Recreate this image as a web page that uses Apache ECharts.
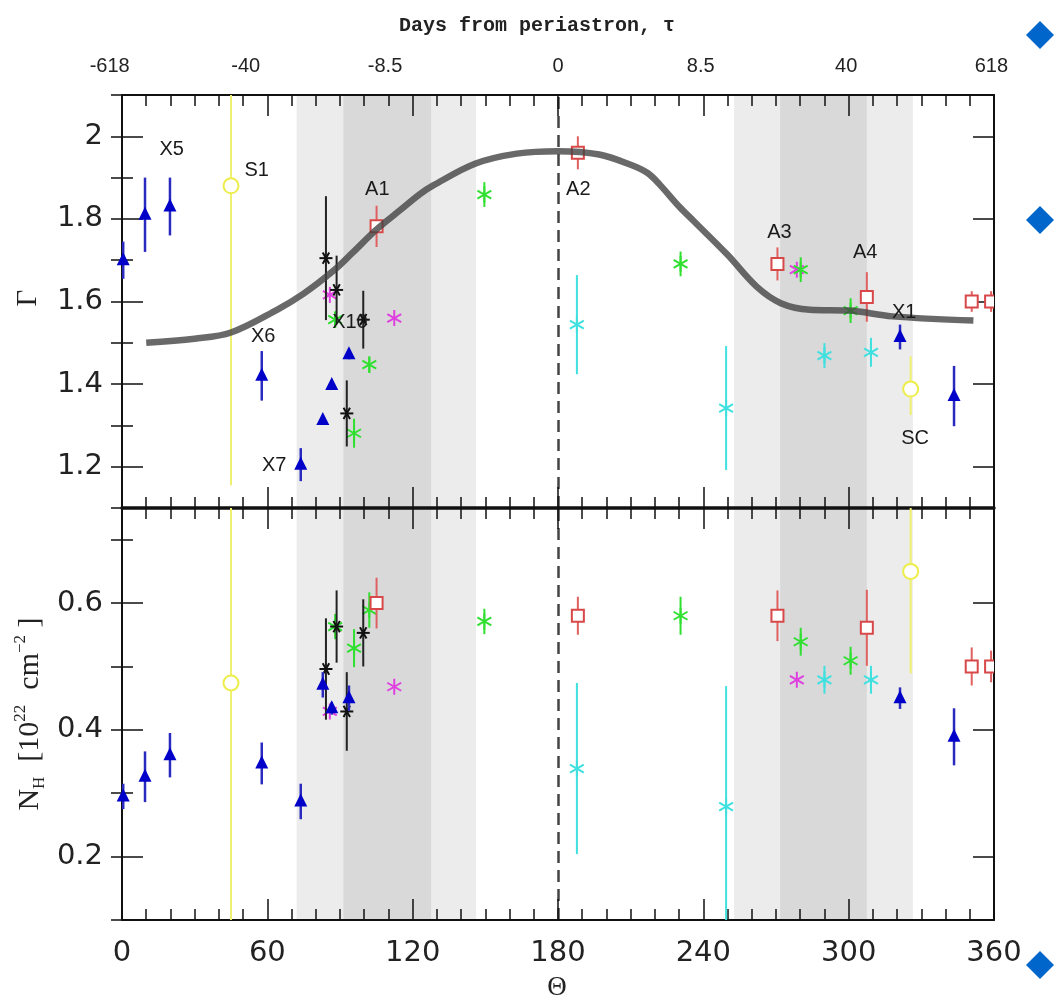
<!DOCTYPE html>
<html><head><meta charset="utf-8">
<script src="https://cdn.jsdelivr.net/npm/echarts@6/dist/echarts.min.js"></script>
<style>html,body{margin:0;padding:0;background:#fff}#c{width:1058px;height:1003px}</style>
</head><body><div id="c"></div><script>
// ---------- axis tick labels ----------
const thetaTicks = [0, 60, 120, 180, 240, 300, 360];
const gammaTicks = [1.2, 1.4, 1.6, 1.8, 2.0];
const nhTicks = [0.2, 0.4, 0.6];
const tauLabels = ['-618', '-40', '-8.5', '0', '8.5', '40', '618'];
const tauTheta = [-5.1, 51.1, 108.6, 180, 238.9, 299.0, 358.9];

// ---------- shaded phase intervals (Theta) ----------
const lightBands = [[72.1, 146.2], [252.7, 326.5]];
const darkBands = [[91.4, 127.6], [271.7, 307.5]];
const periastronTheta = 180;

// ---------- blue triangles ----------
const blueTheta = [0.5, 9.5, 19.8, 57.7, 73.8, 82.9, 86.6, 93.7, 321.2, 343.5];
const blueGamma = [1.70, 1.81, 1.83, 1.42, 1.205, 1.313, 1.398, 1.472, 1.514, 1.371];
const blueGammaErr = [0.045, 0.09, 0.07, 0.06, 0.04, 0.012, 0.012, 0.012, 0.03, 0.073];
const blueNH = [0.295, 0.326, 0.36, 0.347, 0.287, 0.471, 0.434, 0.45, 0.45, 0.389];
const blueNHErr = [0.02, 0.04, 0.035, 0.033, 0.028, 0.02, 0.01, 0.02, 0.017, 0.045];

// ---------- black asterisks ----------
const blackTheta = [84.2, 88.6, 92.8, 99.6];
const blackGamma = [1.705, 1.628, 1.329, 1.556];
const blackGammaErr = [0.15, 0.083, 0.08, 0.07];
const blackNH = [0.496, 0.563, 0.429, 0.553];
const blackNHErr = [0.08, 0.057, 0.062, 0.053];

// ---------- green asterisks ----------
const greenTheta = [88.0, 95.8, 102.1, 149.6, 230.6, 280.2, 300.8];
const greenGamma = [1.556, 1.281, 1.447, 1.859, 1.691, 1.677, 1.578];
const greenGammaErr = [0.02, 0.035, 0.02, 0.03, 0.03, 0.03, 0.03];
const greenNH = [0.563, 0.529, 0.589, 0.571, 0.58, 0.539, 0.509];
const greenNHErr = [0.02, 0.03, 0.028, 0.02, 0.03, 0.022, 0.022];

// ---------- magenta asterisks ----------
const magTheta = [85.8, 112.4, 278.6];
const magGamma = [1.616, 1.56, 1.677];
const magGammaErr = [0, 0, 0];
const magNH = [0.429, 0.468, 0.479];
const magNHErr = [0, 0, 0];

// ---------- cyan asterisks ----------
const cyanTheta = [187.8, 249.4, 290.0, 309.2];
const cyanGamma = [1.544, 1.342, 1.469, 1.477];
const cyanGammaErr = [0.12, 0.15, 0.03, 0.035];
const cyanNH = [0.339, 0.279, 0.479, 0.479];
const cyanNHErr = [0.135, 0.19, 0.022, 0.022];

// ---------- red open squares ----------
const redTheta = [105.1, 188.2, 270.6, 307.5, 350.8, 358.8];
const redGamma = [1.782, 1.96, 1.691, 1.611, 1.60, 1.60];
const redGammaErr = [0.05, 0.04, 0.04, 0.06, 0.025, 0.025];
const redNH = [0.60, 0.58, 0.58, 0.561, 0.50, 0.50];
const redNHErr = [0.04, 0.03, 0.04, 0.06, 0.03, 0.025];

// ---------- yellow open circles (asymmetric errors) ----------
const yelTheta = [45.0, 325.6];
const yelGamma = [1.88, 1.388];
const yelGammaLo = [0.725, 0.063];
const yelGammaHi = [0.40, 0.079];
const yelNH = [0.474, 0.65];
const yelNHLo = [0.45, 0.161];
const yelNHHi = [0.40, 0.20];

// ---------- model curve ----------
const curveTheta = [10, 30, 45, 64, 75, 87, 95, 105, 115, 123, 128.5, 146, 163, 180, 197, 210, 217, 222, 230, 236, 250, 262, 272, 284, 300, 318, 351.5];
const curveGamma = [1.50, 1.51, 1.525, 1.58, 1.619, 1.673, 1.717, 1.774, 1.822, 1.860, 1.881, 1.934, 1.958, 1.964, 1.956, 1.931, 1.911, 1.883, 1.83, 1.795, 1.713, 1.636, 1.596, 1.58, 1.578, 1.564, 1.554];

// ---------- annotations ----------
const labelText = ['X5', 'S1', 'A1', 'A2', 'A3', 'A4', 'X1', 'SC', 'X6', 'X7', 'X10'];
const labelTheta = [20.5, 55.6, 105.4, 188.4, 271.4, 306.8, 322.9, 327.4, 58.3, 62.8, 94.1];
const labelGamma = [1.969, 1.917, 1.871, 1.871, 1.767, 1.719, 1.573, 1.269, 1.515, 1.202, 1.548];

// ================= build =================
function rowsSym(t, v, e) { return t.map((x, i) => [x, v[i], v[i] - e[i], v[i] + e[i]]); }
function rowsAsym(t, v, lo, hi) { return t.map((x, i) => [x, v[i], v[i] - lo[i], v[i] + hi[i]]); }

function makeRender(kind, color, barColor, barW, size) {
  return function (params, api) {
    const cs = params.coordSys;
    const x = api.value(0), y = api.value(1), lo = api.value(2), hi = api.value(3);
    const p = api.coord([x, y]);
    const a = api.coord([x, lo]), b = api.coord([x, hi]);
    const top = cs.y, bot = cs.y + cs.height;
    const y1 = Math.max(top, Math.min(bot, b[1]));
    const y2 = Math.max(top, Math.min(bot, a[1]));
    const ch = [];
    if (y2 - y1 > 0.5) ch.push({ type: 'line', shape: { x1: p[0], y1: y1, x2: p[0], y2: y2 }, style: { stroke: barColor, lineWidth: barW } });
    const cx = p[0], cy = p[1];
    if (kind === 'tri') {
      ch.push({ type: 'polygon', shape: { points: [[cx, cy - 8], [cx - 6.5, cy + 5], [cx + 6.5, cy + 5]] }, style: { fill: color } });
    } else if (kind === 'sq') {
      ch.push({ type: 'rect', shape: { x: cx - 6, y: cy - 6, width: 12, height: 12 }, style: { fill: '#fff', stroke: color, lineWidth: 2 } });
    } else if (kind === 'circ') {
      ch.push({ type: 'circle', shape: { cx: cx, cy: cy, r: 7.5 }, style: { fill: '#fff', stroke: color, lineWidth: 2 } });
    } else {
      const angs = kind === 'astH' ? [0, 60, 120] : [90, 30, 150];
      angs.forEach(d => {
        const r = d * Math.PI / 180, dx = size * Math.cos(r), dy = size * Math.sin(r);
        ch.push({ type: 'line', shape: { x1: cx - dx, y1: cy - dy, x2: cx + dx, y2: cy + dy }, style: { stroke: color, lineWidth: 2 } });
      });
    }
    return { type: 'group', children: ch };
  };
}

function cust(name, xi, yi, data, kind, color, barColor, barW, size, clip) {
  return { name: name, type: 'custom', xAxisIndex: xi, yAxisIndex: yi, z: 6, silent: true, clip: clip !== false,
    renderItem: makeRender(kind, color, barColor, barW, size || 8), data: data };
}

function bandsSeries(xi, yi) {
  const areas = [];
  lightBands.forEach(b => areas.push([{ xAxis: b[0], itemStyle: { color: '#ececec' } }, { xAxis: b[1] }]));
  darkBands.forEach(b => areas.push([{ xAxis: b[0], itemStyle: { color: '#d9d9d9' } }, { xAxis: b[1] }]));
  return { type: 'scatter', xAxisIndex: xi, yAxisIndex: yi, data: [], z: 1, silent: true,
    markArea: { silent: true, data: areas },
    markLine: { silent: true, symbol: ['none', 'none'], label: { show: false },
      lineStyle: { color: '#444', width: 2.5, type: [12, 7] }, data: [{ xAxis: periastronTheta }] } };
}

const tickLine = { color: '#111', width: 1.5 };
const labelFont = { fontFamily: 'DejaVu Sans', fontSize: 29, color: '#222' };

function xAx(grid, pos, showLabel, lineW) {
  return { type: 'value', gridIndex: grid, position: pos, min: 0, max: 360, interval: 60, z: 5,
    axisLine: { show: true, onZero: false, lineStyle: { color: '#111', width: lineW } },
    axisTick: { show: true, inside: true, length: 21, lineStyle: tickLine },
    minorTick: { show: true, splitNumber: 6, length: 11, lineStyle: tickLine },
    splitLine: { show: false }, minorSplitLine: { show: false },
    axisLabel: Object.assign({ show: showLabel, margin: 19, customValues: thetaTicks }, labelFont) };
}
function yMajor(grid, pos, min, max, ticks, showLabel) {
  return { type: 'value', gridIndex: grid, position: pos, min: min, max: max, z: 5,
    axisLine: { show: true, onZero: false, lineStyle: { color: '#111', width: 2 } },
    axisTick: { show: true, inside: true, length: 21, customValues: ticks, lineStyle: tickLine },
    axisLabel: Object.assign({ show: showLabel, margin: 19, customValues: ticks,
      formatter: v => (Math.abs(v - Math.round(v)) < 1e-9 ? String(Math.round(v)) : v.toFixed(1)) }, labelFont),
    splitLine: { show: false } };
}
function yMinor(grid, pos, min, max) {
  return { type: 'value', gridIndex: grid, position: pos, min: min, max: max, interval: 0.1, z: 5,
    axisLine: { show: false }, axisTick: { show: true, inside: true, length: 11, lineStyle: tickLine },
    axisLabel: { show: false }, splitLine: { show: false } };
}

const pxPerDeg = 872 / 360;
const option = {
  animation: false,
  backgroundColor: '#fff',
  grid: [
    { left: 122, top: 95, width: 872, height: 413 },
    { left: 122, top: 508, width: 872, height: 412 },
    { left: 122 - 10 * pxPerDeg, top: 95, width: 380 * pxPerDeg, height: 413 }
  ],
  xAxis: [
    xAx(0, 'bottom', false, 3.5),
    xAx(0, 'top', false, 2),
    xAx(1, 'bottom', true, 2),
    xAx(1, 'top', false, 2),
    { type: 'value', gridIndex: 2, position: 'top', min: -10, max: 370, z: 5,
      axisLine: { show: false }, axisTick: { show: false }, splitLine: { show: false },
      axisLabel: { show: true, margin: 19, customValues: tauTheta, fontFamily: 'Liberation Sans', fontSize: 20, color: '#222',
        formatter: v => { let k = 0, d = 1e9; tauTheta.forEach((t, i) => { if (Math.abs(t - v) < d) { d = Math.abs(t - v); k = i; } }); return tauLabels[k]; } } }
  ],
  yAxis: [
    yMajor(0, 'left', 1.1, 2.1, gammaTicks, true),
    yMinor(0, 'left', 1.1, 2.1),
    yMajor(0, 'right', 1.1, 2.1, gammaTicks, false),
    yMinor(0, 'right', 1.1, 2.1),
    yMajor(1, 'left', 0.1, 0.75, nhTicks, true),
    yMinor(1, 'left', 0.1, 0.75),
    yMajor(1, 'right', 0.1, 0.75, nhTicks, false),
    yMinor(1, 'right', 0.1, 0.75),
    { type: 'value', gridIndex: 2, show: false, min: 0, max: 1 }
  ],
  series: [
    bandsSeries(0, 0),
    bandsSeries(2, 4),
    cust('yelG', 0, 0, rowsAsym(yelTheta, yelGamma, yelGammaLo, yelGammaHi), 'circ', '#eded4a', '#f0f070', 2),
    cust('yelN', 2, 4, rowsAsym(yelTheta, yelNH, yelNHLo, yelNHHi), 'circ', '#eded4a', '#f0f070', 2),
    cust('cyanG', 0, 0, rowsSym(cyanTheta, cyanGamma, cyanGammaErr), 'ast', '#3fe0e0', '#3fe0e0', 2),
    cust('cyanN', 2, 4, rowsSym(cyanTheta, cyanNH, cyanNHErr), 'ast', '#3fe0e0', '#3fe0e0', 2),
    cust('magG', 0, 0, rowsSym(magTheta, magGamma, magGammaErr), 'ast', '#e040e0', '#e040e0', 2),
    cust('magN', 2, 4, rowsSym(magTheta, magNH, magNHErr), 'ast', '#e040e0', '#e040e0', 2),
    cust('greenG', 0, 0, rowsSym(greenTheta, greenGamma, greenGammaErr), 'ast', '#30e030', '#30e030', 2),
    cust('greenN', 2, 4, rowsSym(greenTheta, greenNH, greenNHErr), 'ast', '#30e030', '#30e030', 2),
    cust('blackG', 0, 0, rowsSym(blackTheta, blackGamma, blackGammaErr), 'astH', '#111', '#222', 2, 6.5),
    cust('blackN', 2, 4, rowsSym(blackTheta, blackNH, blackNHErr), 'astH', '#111', '#222', 2, 6.5),
    cust('blueG', 0, 0, rowsSym(blueTheta, blueGamma, blueGammaErr), 'tri', '#0000c8', '#2a2ac0', 2.5, 8, false),
    cust('blueN', 2, 4, rowsSym(blueTheta, blueNH, blueNHErr), 'tri', '#0000c8', '#2a2ac0', 2.5, 8, false),
    cust('redG', 0, 0, rowsSym(redTheta, redGamma, redGammaErr), 'sq', '#d94848', '#e06060', 2),
    cust('redN', 2, 4, rowsSym(redTheta, redNH, redNHErr), 'sq', '#d94848', '#e06060', 2),
    { type: 'line', xAxisIndex: 0, yAxisIndex: 0, z: 7, silent: true, smooth: 0.35, showSymbol: false, symbol: 'none',
      lineStyle: { color: '#444', width: 6.5, opacity: 0.8 },
      data: curveTheta.map((t, i) => [t, curveGamma[i]]) },
    { type: 'custom', xAxisIndex: 0, yAxisIndex: 0, z: 8, silent: true, clip: false,
      data: labelTheta.map((t, i) => [t, labelGamma[i], i]),
      renderItem: (params, api) => {
        const p = api.coord([api.value(0), api.value(1)]);
        return { type: 'text', x: p[0], y: p[1], style: { text: labelText[api.value(2)], fill: '#1a1a1a',
          font: '20px "Liberation Sans"', textAlign: 'center', textVerticalAlign: 'middle' } };
      } }
  ],
  graphic: [
    { type: 'text', x: 537, y: 26, style: { text: 'Days from periastron, τ', font: 'bold 20px "Liberation Mono"', fill: '#222', textAlign: 'center', textVerticalAlign: 'middle' } },
    { type: 'text', x: 28, y: 298, rotation: Math.PI / 2, style: { text: 'Γ', font: '29px "Liberation Serif"', fill: '#222', textAlign: 'center', textVerticalAlign: 'middle' } },
    { type: 'text', x: 30, y: 714, rotation: Math.PI / 2, style: {
        text: '{a|N}{b|H}{a|  [10}{c|22}{a|  cm}{c|−2}{a| ]}', textAlign: 'center', textVerticalAlign: 'middle', fill: '#222',
        rich: {
          a: { fontFamily: 'Liberation Serif', fontSize: 30, lineHeight: 36, verticalAlign: 'middle', fill: '#222' },
          b: { fontFamily: 'Liberation Serif', fontSize: 17, lineHeight: 36, verticalAlign: 'bottom', fill: '#222' },
          c: { fontFamily: 'Liberation Serif', fontSize: 17, lineHeight: 36, verticalAlign: 'top', fill: '#222' }
        } } },
    { type: 'text', x: 557, y: 988, style: { text: 'Θ', font: '27px "Liberation Serif"', fill: '#222', textAlign: 'center', textVerticalAlign: 'middle' } },
    { type: 'polygon', shape: { points: [[1040, 21], [1054, 35], [1040, 49], [1026, 35]] }, style: { fill: '#0066cc' } },
    { type: 'polygon', shape: { points: [[1040, 206], [1054, 220], [1040, 234], [1026, 220]] }, style: { fill: '#0066cc' } },
    { type: 'polygon', shape: { points: [[1040, 951], [1054, 965], [1040, 979], [1026, 965]] }, style: { fill: '#0066cc' } }
  ]
};
const chart = echarts.init(document.getElementById('c'), null, { renderer: 'canvas' });
chart.setOption(option);
</script></body></html>
